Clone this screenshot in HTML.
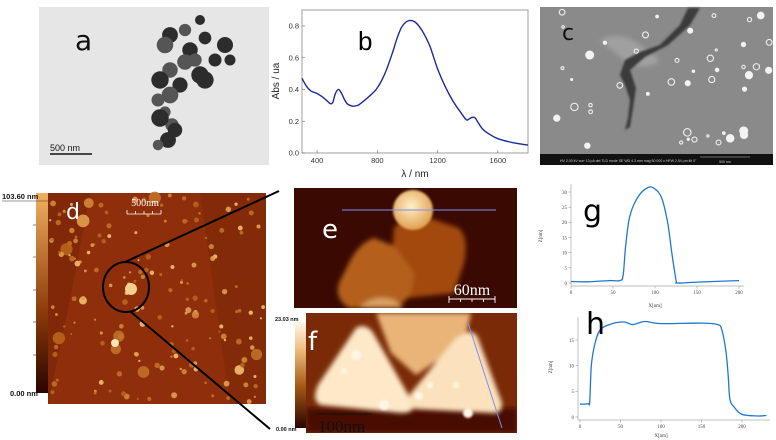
<!DOCTYPE html>
<html><head><meta charset="utf-8"><style>
html,body{margin:0;padding:0;background:#fff;}
svg{display:block;font-family:"Liberation Sans",sans-serif;}
</style></head><body>
<svg id="fig" width="776" height="440" viewBox="0 0 776 440" xmlns="http://www.w3.org/2000/svg">
<defs>
  <filter id="bl1"><feGaussianBlur stdDeviation="1"/></filter>
  <filter id="bl2"><feGaussianBlur stdDeviation="2.5"/></filter>
  <linearGradient id="cbar" x1="0" y1="1" x2="0" y2="0">
    <stop offset="0" stop-color="#2a0500"/><stop offset="0.4" stop-color="#8a3a08"/><stop offset="1" stop-color="#f0b060"/>
  </linearGradient>
  <linearGradient id="cbar2" x1="0" y1="1" x2="0" y2="0">
    <stop offset="0" stop-color="#2a0500"/><stop offset="0.4" stop-color="#a85a15"/><stop offset="0.75" stop-color="#f0c080"/><stop offset="1" stop-color="#fff8ea"/>
  </linearGradient>
  <radialGradient id="ball" cx="0.45" cy="0.4" r="0.6"><stop offset="0" stop-color="#fff0c8"/><stop offset="1" stop-color="#e0a050"/></radialGradient>
</defs>

<!-- Panel a: TEM -->
<g>
  <rect x="39" y="7" width="230" height="158" fill="#e6e6e6"/>
  <g id="tem" fill="#3a3a3a"></g>
  <text x="75" y="50" font-size="28" fill="#111" font-family="DejaVu Sans,sans-serif">a</text>
  <line x1="50" y1="154" x2="92" y2="154" stroke="#111" stroke-width="1.5"/>
  <text x="50" y="151" font-size="9" fill="#111">500 nm</text>
</g>

<!-- Panel b: absorbance chart -->
<g id="chartB">
  <rect x="302" y="10" width="226" height="143" fill="none" stroke="#888" stroke-width="0.8"/>
  <g id="bTicks"></g>
  <text x="358" y="50" font-size="26" fill="#000">b</text>
  <text x="415" y="177" font-size="10" fill="#222" text-anchor="middle">λ / nm</text>
  <text transform="translate(279,81) rotate(-90)" font-size="10" fill="#222" text-anchor="middle">Abs / ua</text>
  <path id="bLine" fill="none" stroke="#1c2a9a" stroke-width="1.4"/>
</g>

<!-- Panel c: SEM -->
<g>
  <rect x="540" y="7" width="233" height="158" fill="#8a8a8a"/>
  <path d="M600 40 Q620 30 640 45 L660 60 Q650 70 630 65 Z" fill="#a0a0a0" filter="url(#bl2)"/>
  <path d="M688 8 L680 25 L660 45 L640 52 L625 60 L620 75 L625 85 L630 100 L628 118 L625 130 L630 127 L633 108 L636 88 L630 70 L645 57 L668 45 L690 25 L700 8 Z" fill="#3a3a3a" filter="url(#bl1)"/>
  <g id="sem" fill="none" stroke="#f0f0f0" stroke-width="1.1"></g>
  <text x="562" y="40" font-size="22" fill="#111" font-family="DejaVu Sans,sans-serif">c</text>
  <rect x="540" y="154" width="233" height="11" fill="#111"/>
  <text x="560" y="162" font-size="3.5" fill="#ccc">HV 2.00 kV  curr 13 pA  det TLD  mode SE  WD 4.3 mm  mag 50 000 x  HFW 2.54 µm  tilt 0°</text>
  <line x1="700" y1="157" x2="750" y2="157" stroke="#ccc" stroke-width="0.6"/>
  <text x="725" y="163" font-size="3.5" fill="#ccc" text-anchor="middle">500 nm</text>
</g>

<!-- Panel d: AFM overview -->
<g>
  <rect x="36" y="193" width="12" height="200" fill="url(#cbar)"/>
  <g stroke="#333" stroke-width="0.6"><line x1="33" y1="225" x2="36" y2="225"/><line x1="33" y1="257" x2="36" y2="257"/><line x1="33" y1="290" x2="36" y2="290"/><line x1="33" y1="322" x2="36" y2="322"/><line x1="33" y1="355" x2="36" y2="355"/></g>
  <text x="2" y="199" font-size="7.5" font-weight="bold" fill="#111">103.60 nm</text>
  <line x1="2" y1="201" x2="48" y2="201" stroke="#333" stroke-width="0.6"/>
  <text x="10" y="396" font-size="7.5" font-weight="bold" fill="#111">0.00 nm</text>
  <rect x="48" y="193" width="218" height="211" fill="#8e2e0a"/>
  <path d="M48 193 L90 193 L70 300 L48 404 Z" fill="#7a2606" opacity="0.7"/>
  <path d="M200 193 L266 193 L266 404 L230 404 Z" fill="#7c2808" opacity="0.6"/>
  <g id="afm"></g>
  <text x="66" y="219" font-size="22" fill="#fff" font-family="DejaVu Sans,sans-serif">d</text>
  <text x="145" y="206" font-size="10" fill="#fff" text-anchor="middle" font-family="Liberation Serif,serif">500nm</text>
  <path d="M127 214 H161 M127 210 V214 M135.5 211 V214 M144 211 V214 M152.5 211 V214 M161 210 V214" stroke="#fff" stroke-width="0.8" fill="none"/>
  <ellipse cx="126" cy="287" rx="23" ry="25" fill="none" stroke="#000" stroke-width="2"/>
  <line x1="125" y1="262" x2="279" y2="191" stroke="#000" stroke-width="2"/>
  <line x1="131" y1="312" x2="270" y2="429" stroke="#000" stroke-width="2"/>
</g>

<!-- Panel e -->
<g>
  <svg x="294" y="188" width="223" height="120" overflow="hidden">
    <rect width="223" height="120" fill="#3a0a02"/>
    <g filter="url(#bl2)">
      <path d="M100 40 Q110 28 135 30 L165 40 Q175 50 170 75 L160 105 L95 112 Z" fill="#a24a10"/>
      <path d="M55 75 Q65 55 80 50 L100 58 L120 85 Q120 112 100 120 L55 120 Q40 110 45 95 Z" fill="#b4601a"/>
      <path d="M65 120 Q80 105 100 112 L110 120 Z" fill="#d8a060"/>
    </g>
    <circle cx="119" cy="22" r="20" fill="url(#ball)" filter="url(#bl1)"/>
  </svg>
  <text x="322" y="238" font-size="26" fill="#fff" font-family="DejaVu Sans,sans-serif">e</text>
  <line x1="342" y1="210" x2="496" y2="210" stroke="#7d8ff0" stroke-width="1"/>
  <text x="472" y="295" font-size="16" fill="#fff" text-anchor="middle" font-family="Liberation Serif,serif">60nm</text>
  <path d="M449 299 H495 M449 296 V303 M460.5 299 V302 M472 299 V302 M483.5 299 V302 M495 296 V303" stroke="#fff" stroke-width="0.9" fill="none"/>
</g>

<!-- Panel f -->
<g>
  <rect x="295" y="322" width="11" height="106" fill="url(#cbar2)"/>
  <text x="275" y="321" font-size="5.5" font-weight="bold" fill="#111">23.03 nm</text>
  <text x="276" y="431" font-size="5.5" font-weight="bold" fill="#111">0.00 nm</text>
  <svg x="306" y="313" width="211" height="120" overflow="hidden">
    <rect width="211" height="120" fill="#7a2a06"/>
    <rect x="0" y="95" width="211" height="25" fill="#4a1002" filter="url(#bl2)"/>
    <g filter="url(#bl2)">
      <path d="M70 0 L165 0 L158 30 L110 62 L85 40 Z" fill="#e8b478"/>
      <path d="M50 15 Q58 10 66 18 L108 92 Q108 100 95 100 L15 92 Q5 88 12 72 Z" fill="#fde9c8"/>
      <path d="M160 20 Q168 17 172 25 L196 90 Q196 102 185 100 L110 96 Q98 92 105 80 L150 25 Z" fill="#fbe2bd"/>
    </g>
    <g fill="#fff6e6" filter="url(#bl1)">
      <circle cx="50" cy="42" r="5"/><circle cx="78" cy="92" r="5"/><circle cx="113" cy="83" r="4"/><circle cx="162" cy="100" r="5"/><circle cx="38" cy="58" r="3"/><circle cx="150" cy="72" r="3"/><circle cx="124" cy="72" r="3"/>
    </g>
  </svg>
  <text x="308" y="350" font-size="26" fill="#fff" font-family="DejaVu Sans,sans-serif">f</text>
  <line x1="468" y1="323" x2="502" y2="428" stroke="#7d8ff0" stroke-width="1"/>
  <line x1="316" y1="414" x2="372" y2="414" stroke="#111" stroke-width="1"/>
  <text x="318" y="432" font-size="17" fill="#111" font-family="Liberation Serif,serif">100nm</text>
</g>

<!-- Panel g chart -->
<g id="chartG">
  <g id="gAxes"></g>
  <path id="gLine" fill="none" stroke="#1f78d0" stroke-width="1.3"/>
  <text x="583" y="221" font-size="30" fill="#000" font-family="DejaVu Sans,sans-serif">g</text>
  <text x="655" y="307" font-size="5" fill="#333" text-anchor="middle" font-family="Liberation Serif,serif">X[nm]</text>
  <text transform="translate(542,236) rotate(-90)" font-size="5" fill="#333" text-anchor="middle" font-family="Liberation Serif,serif">Z[nm]</text>
</g>

<!-- Panel h chart -->
<g id="chartH">
  <g id="hAxes"></g>
  <path id="hLine" fill="none" stroke="#1f78d0" stroke-width="1.3"/>
  <text x="586" y="334" font-size="30" fill="#000" font-family="DejaVu Sans,sans-serif">h</text>
  <text x="661" y="437" font-size="5" fill="#333" text-anchor="middle" font-family="Liberation Serif,serif">X[nm]</text>
  <text transform="translate(552,367) rotate(-90)" font-size="5" fill="#333" text-anchor="middle" font-family="Liberation Serif,serif">Z[nm]</text>
</g>
</svg>

<script>
// ---- Panel b data ----
const bWavelength = [300,330,360,400,440,470,490,505,520,540,560,580,600,620,640,670,700,750,800,850,900,930,960,990,1020,1050,1080,1110,1150,1200,1250,1300,1350,1390,1410,1430,1450,1470,1500,1550,1600,1700,1800];
const bAbs = [0.47,0.42,0.39,0.375,0.35,0.325,0.31,0.32,0.37,0.40,0.38,0.34,0.31,0.30,0.295,0.30,0.32,0.36,0.41,0.50,0.63,0.72,0.79,0.825,0.835,0.825,0.795,0.75,0.67,0.53,0.42,0.33,0.26,0.21,0.215,0.225,0.22,0.19,0.15,0.115,0.09,0.065,0.05];
const bXTicks = [400,800,1200,1600];
const bYTicks = [0.0,0.2,0.4,0.6,0.8];
// ---- Panel g data ----
const gX = [0,20,45,58,62,65,70,80,92,100,108,115,120,125,127,150,200];
const gZ = [0.5,0.4,0.8,0.8,2.5,12,22,28.5,31.5,31,28,20,10,1,0,0.3,0.8];
const gXTicks = [0,50,100,150,200];
const gYTicks = [0,5,10,15,20,25,30];
// ---- Panel h data ----
const hX = [0,10,12,14,18,25,40,55,65,80,100,150,170,175,180,183,185,190,200,220,230];
const hZ = [2.5,2.6,3,10,14,17,18.2,18.5,18,18.6,18.2,18.3,18,17,13,8,3.5,2,0.5,0.2,0.3];
const hXTicks = [0,50,100,150,200];
const hYTicks = [0,5,10,15];

const NS = "http://www.w3.org/2000/svg";
function mk(parent, tag, attrs){const e=document.createElementNS(NS,tag);for(const k in attrs)e.setAttribute(k,attrs[k]);parent.appendChild(e);return e;}
function lin(d0,d1,r0,r1){return v=>r0+(v-d0)*(r1-r0)/(d1-d0);}
function smooth(pts){
  let d='M'+pts[0][0].toFixed(1)+' '+pts[0][1].toFixed(1);
  for(let i=0;i<pts.length-1;i++){
    const p0=pts[Math.max(0,i-1)],p1=pts[i],p2=pts[i+1],p3=pts[Math.min(pts.length-1,i+2)];
    const c1=[p1[0]+(p2[0]-p0[0])/6,p1[1]+(p2[1]-p0[1])/6];
    const c2=[p2[0]-(p3[0]-p1[0])/6,p2[1]-(p3[1]-p1[1])/6];
    d+=` C${c1[0].toFixed(1)} ${c1[1].toFixed(1)} ${c2[0].toFixed(1)} ${c2[1].toFixed(1)} ${p2[0].toFixed(1)} ${p2[1].toFixed(1)}`;
  }
  return d;
}

// Panel b
const bx = lin(300,1800,302,528), by = lin(0,0.8,153,26);
const bT = document.getElementById('bTicks');
bXTicks.forEach(v=>{
  const l=mk(bT,'line',{x1:bx(v),x2:bx(v),y1:153,y2:150,stroke:'#666','stroke-width':0.6});
  
  
  const t=mk(bT,'text',{x:bx(v),y:163,'font-size':7.5,'text-anchor':'middle',fill:'#333'});t.textContent=v;
  
  
});
bYTicks.forEach(v=>{
  const l=mk(bT,'line',{x1:302,x2:305,y1:by(v),y2:by(v),stroke:'#666','stroke-width':0.6});
  
  
  const t=mk(bT,'text',{x:299,y:by(v)+2.5,'font-size':7.5,'text-anchor':'end',fill:'#333'});t.textContent=v.toFixed(1);
  
  
});
document.getElementById('bLine').setAttribute('d', smooth(bWavelength.map((w,i)=>[bx(w),by(bAbs[i])])));

function axes(gid, xs, ys, xT, yT, x0, y0, xEnd, yTop, suffix){
  const g=document.getElementById(gid);
  const ax=mk(g,'path',{d:`M${x0} ${yTop} V${y0} H${xEnd}`,stroke:'#aaa','stroke-width':0.7,fill:'none'});
  
  
  xT.forEach(v=>{
    const l=mk(g,'line',{x1:xs(v),x2:xs(v),y1:y0,y2:y0+2.5,stroke:'#888','stroke-width':0.5});
    
    
    const t=mk(g,'text',{x:xs(v),y:y0+8,'font-size':5,'text-anchor':'middle',fill:'#444','font-family':'Liberation Serif,serif'});t.textContent=v;
    
    
  });
  yT.forEach(v=>{
    const l=mk(g,'line',{x1:x0-2.5,x2:x0,y1:ys(v),y2:ys(v),stroke:'#888','stroke-width':0.5});
    
    
    const t=mk(g,'text',{x:x0-4,y:ys(v)+1.8,'font-size':5,'text-anchor':'end',fill:'#444','font-family':'Liberation Serif,serif'});t.textContent=v;
    
    
  });
}
const gxs=lin(0,200,571,739), gys=lin(0,30,283,192);
axes('gAxes',gxs,gys,gXTicks,gYTicks,571,286,744,184,'g');
document.getElementById('gLine').setAttribute('d', smooth(gX.map((x,i)=>[gxs(x),gys(gZ[i])])));
const hxs=lin(0,200,580,742), hys=lin(0,15,417,340);
axes('hAxes',hxs,hys,hXTicks,hYTicks,578,420,770,317,'h');
document.getElementById('hLine').setAttribute('d', smooth(hX.map((x,i)=>[hxs(x),hys(hZ[i])])));

// decorative image textures (not chart data)
let seed=7; function rnd(){seed=(seed*16807)%2147483647;return (seed-1)/2147483646;}
const tem=document.getElementById('tem');
const temPts=[[200,20],[185,30],[170,35],[205,38],[225,45],[190,50],[165,45],[215,60],[185,62],[170,70],[200,75],[230,60],[160,80],[180,85],[205,80],[158,100],[170,95],[165,112],[172,125],[160,118],[168,140],[158,145],[175,130],[195,60]];
temPts.forEach(p=>{const c=mk(tem,'circle',{cx:p[0],cy:p[1],r:5+rnd()*4,fill:rnd()>0.5?'#2c2c2c':'#555'});
  
  });
const sem=document.getElementById('sem');
for(let i=0;i<45;i++){const x=545+rnd()*225,y=12+rnd()*138;const c=mk(sem,'circle',{cx:x,cy:y,r:1+rnd()*3});
  if(rnd()>0.55){c.setAttribute('fill','#f4f4f4');}
  
  }
const afm=document.getElementById('afm');
for(let i=0;i<170;i++){const x=50+rnd()*214,y=195+rnd()*207;const big=rnd();const r=big>0.93?3.5+rnd()*3:1+rnd()*2;
  const col=['#e0a050','#d08a38','#f2c070','#c07028','#b8641c'][Math.floor(rnd()*5)];
  const c=mk(afm,'circle',{cx:x,cy:y,r:r,fill:col,opacity:0.9});
  
  }
const cc=mk(afm,'circle',{cx:131,cy:289,r:6,fill:'#f4d090'});


const cc2=mk(afm,'circle',{cx:115,cy:343,r:4,fill:'#fbe6b8'});


</script>
</body></html>
